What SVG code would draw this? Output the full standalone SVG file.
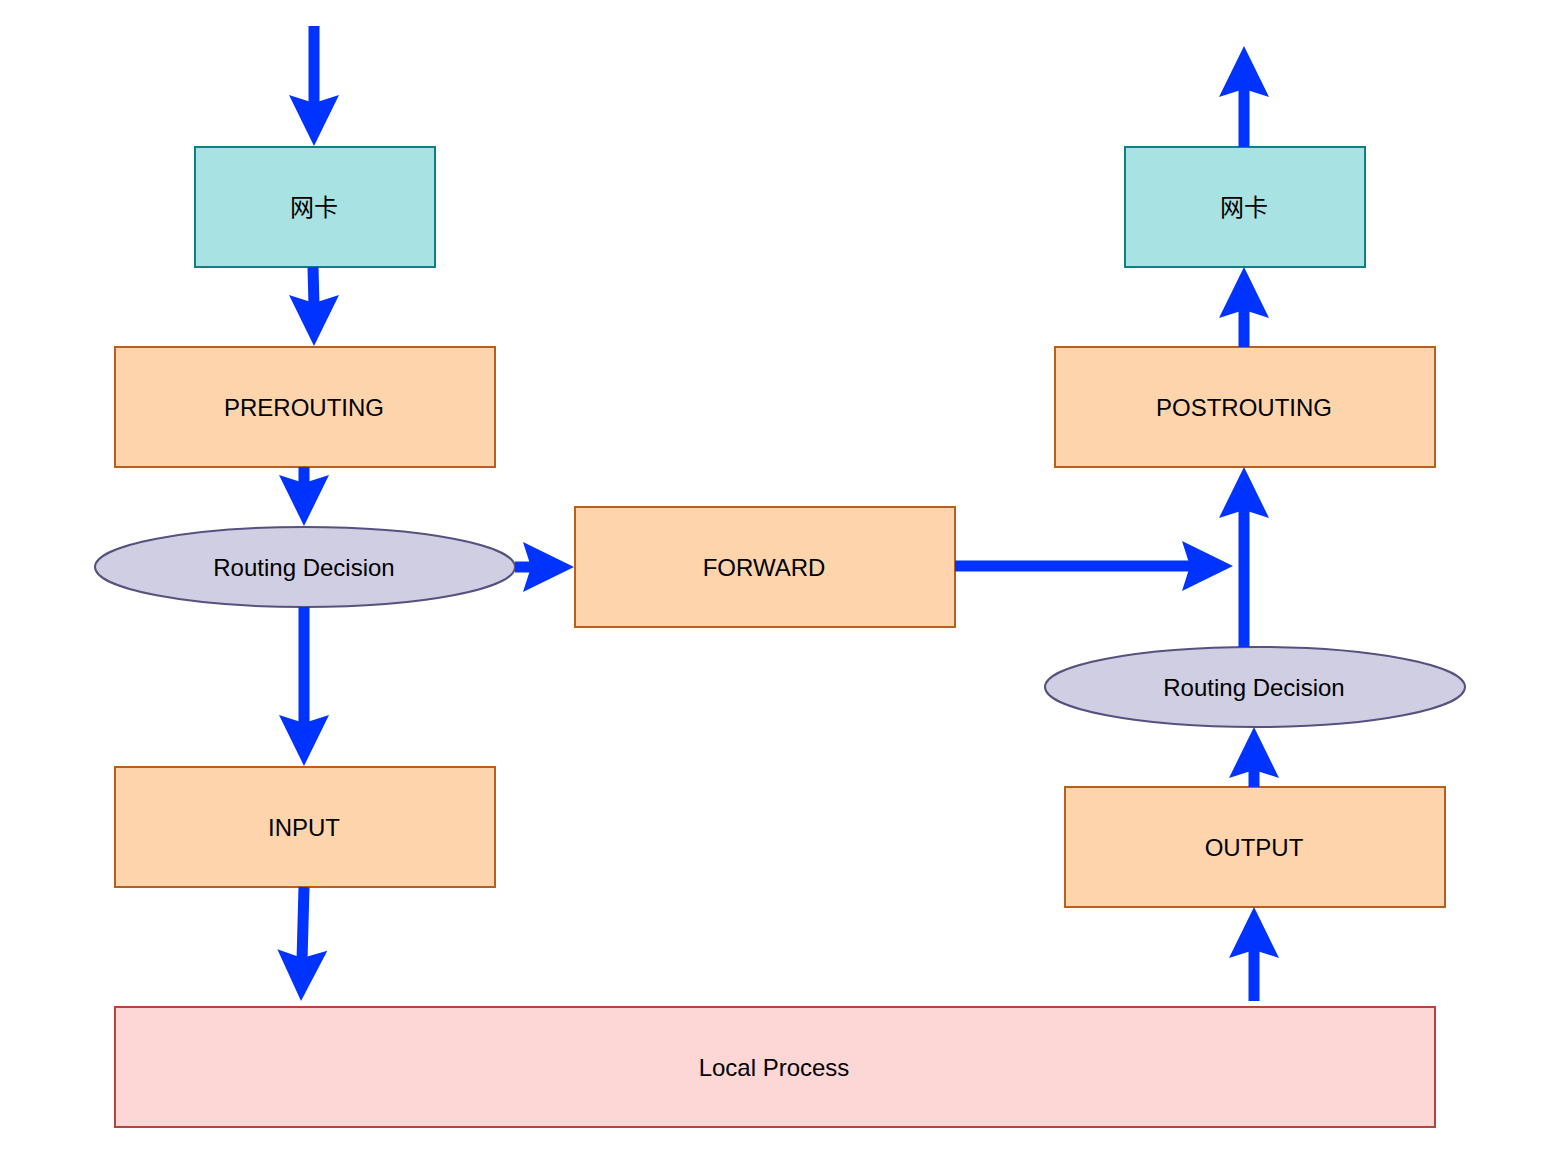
<svg xmlns="http://www.w3.org/2000/svg" width="1548" height="1174" viewBox="0 0 1548 1174">
<style>
.t{font-family:"Liberation Sans",Arial,"Noto Sans CJK SC",sans-serif;font-size:24px;fill:#000;text-anchor:middle}
.nic{fill:#a8e2e3;stroke:#0e8088;stroke-width:2}
.chain{fill:#fdd4ac;stroke:#b85f1c;stroke-width:2}
.rd{fill:#d0cee2;stroke:#56517e;stroke-width:2}
.lp{fill:#fdd7d5;stroke:#b8433a;stroke-width:2}
.c{stroke:#0033ff;stroke-width:11;fill:none}
.h{fill:#0033ff}
</style>
<defs>
<path id="ah" d="M0,0 L-25,-51 L0,-43 L25,-51 Z"/>
</defs>
<rect width="1548" height="1174" fill="#fff"/>
<g id="nic-in"><rect class="nic" x="195" y="147" width="240" height="120"/><text class="t" x="314" y="216">网卡</text></g>
<g id="prerouting"><rect class="chain" x="115" y="347" width="380" height="120"/><text class="t" x="304" y="416">PREROUTING</text></g>
<g id="rd1"><ellipse class="rd" cx="305" cy="567" rx="210" ry="40"/><text class="t" x="304" y="576">Routing Decision</text></g>
<g id="forward"><rect class="chain" x="575" y="507" width="380" height="120"/><text class="t" x="764" y="576">FORWARD</text></g>
<g id="input"><rect class="chain" x="115" y="767" width="380" height="120"/><text class="t" x="304" y="836">INPUT</text></g>
<g id="local"><rect class="lp" x="115" y="1007" width="1320" height="120"/><text class="t" x="774" y="1076">Local Process</text></g>
<g id="nic-out"><rect class="nic" x="1125" y="147" width="240" height="120"/><text class="t" x="1244" y="216">网卡</text></g>
<g id="postrouting"><rect class="chain" x="1055" y="347" width="380" height="120"/><text class="t" x="1244" y="416">POSTROUTING</text></g>
<g id="rd2"><ellipse class="rd" cx="1255" cy="687" rx="210" ry="40"/><text class="t" x="1254" y="696">Routing Decision</text></g>
<g id="output"><rect class="chain" x="1065" y="787" width="380" height="120"/><text class="t" x="1254" y="856">OUTPUT</text></g>
<g id="connectors">
<line class="c" x1="314" y1="26" x2="314" y2="106"/><use href="#ah" class="h" transform="translate(314,146)"/>
<line class="c" x1="313" y1="267" x2="314" y2="306"/><use href="#ah" class="h" transform="translate(314,346)"/>
<line class="c" x1="304" y1="467" x2="304" y2="486"/><use href="#ah" class="h" transform="translate(304,526)"/>
<line class="c" x1="515" y1="567" x2="534" y2="567"/><use href="#ah" class="h" transform="translate(574,567) rotate(-90)"/>
<line class="c" x1="304" y1="607" x2="304" y2="726"/><use href="#ah" class="h" transform="translate(304,766)"/>
<line class="c" x1="304" y1="887" x2="302" y2="961"/><use href="#ah" class="h" transform="translate(301,1001) rotate(1.5)"/>
<line class="c" x1="955" y1="566" x2="1193" y2="566"/><use href="#ah" class="h" transform="translate(1233,566) rotate(-90)"/>
<line class="c" x1="1244" y1="647" x2="1244" y2="507"/><use href="#ah" class="h" transform="translate(1244,467) rotate(180)"/>
<line class="c" x1="1244" y1="347" x2="1244" y2="307"/><use href="#ah" class="h" transform="translate(1244,267) rotate(180)"/>
<line class="c" x1="1244" y1="147" x2="1244" y2="86"/><use href="#ah" class="h" transform="translate(1244,46) rotate(180)"/>
<line class="c" x1="1254" y1="787" x2="1254" y2="767"/><use href="#ah" class="h" transform="translate(1254,727) rotate(180)"/>
<line class="c" x1="1254" y1="1001" x2="1254" y2="947"/><use href="#ah" class="h" transform="translate(1254,907) rotate(180)"/>
</g>
</svg>
